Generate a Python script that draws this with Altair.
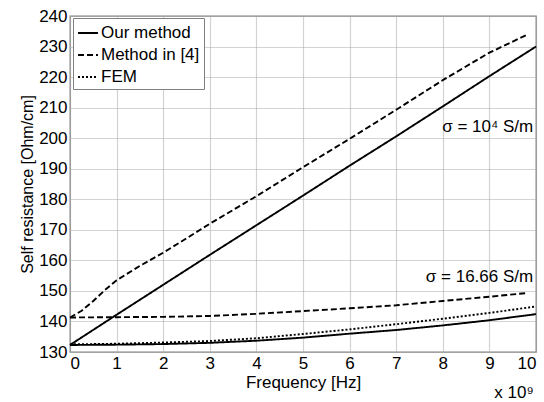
import altair as alt
import pandas as pd

# ---- data (frequency in units of 1e9 Hz, resistance in Ohm/cm) ----
freq_our_1e4 = [0, 1, 2, 3, 4, 5, 6, 7, 8, 9, 10]
our_1e4 = [132.3, 142.2, 152.0, 161.8, 171.5, 181.2, 191.0, 200.6, 210.4, 220.3, 230.0]

freq_m4_1e4 = [0, 0.25, 0.5, 0.75, 1, 1.5, 2, 2.5, 3, 4, 5, 6, 7, 8, 9, 9.8]
m4_1e4 = [141.3, 143.5, 146.7, 150.3, 153.5, 158.2, 162.5, 167.2, 172.0, 181.0,
          190.5, 199.8, 209.3, 219.0, 228.0, 233.8]

freq_16 = [0, 1, 2, 3, 4, 5, 6, 7, 8, 9, 10]
our_16 = [132.3, 132.4, 132.6, 133.0, 133.7, 134.7, 136.0, 137.2, 138.7, 140.4, 142.4]
fem_16 = [132.5, 132.7, 133.1, 133.6, 134.5, 135.9, 137.4, 139.1, 140.9, 142.8, 144.9]

freq_m4_16 = [0, 1, 2, 3, 4, 5, 6, 7, 8, 9, 9.8]
m4_16 = [141.3, 141.4, 141.5, 141.8, 142.5, 143.4, 144.3, 145.3, 146.7, 148.1, 149.3]

methods = ["Our method", "Method in [4]", "FEM"]
x_ticks = list(range(0, 11))
y_ticks = list(range(130, 241, 10))

ann_text = ["σ = 10⁴ S/m", "σ = 16.66 S/m"]
ann_x = [9.94, 9.94]
ann_y = [203.6, 154.5]

# ---- build table ----
rows = []
def add(freqs, vals, method, sigma):
    for f, v in zip(freqs, vals):
        rows.append({"freq": f, "R": v, "method": method, "sigma": sigma})

add(freq_our_1e4, our_1e4, "Our method", "1e4")
add(freq_m4_1e4, m4_1e4, "Method in [4]", "1e4")
add(freq_16, our_16, "Our method", "16.66")
add(freq_16, fem_16, "FEM", "16.66")
add(freq_m4_16, m4_16, "Method in [4]", "16.66")
df = pd.DataFrame(rows)
ann = pd.DataFrame({"freq": ann_x, "R": ann_y, "text": ann_text})

FONT = "Liberation Sans"
W, H = 466, 336

xscale = alt.Scale(domain=[0, 10], nice=False)
yscale = alt.Scale(domain=[130, 240], nice=False)

GRID = dict(grid=True, gridColor="#a6a6a6", gridDash=[1, 1], gridWidth=1.2,
            gridOpacity=1)

xaxis = alt.Axis(values=x_ticks, title="Frequency [Hz]", format="d",
                 labelPadding=3, titlePadding=3, labelOverlap=False,
                 labelFontSize=17, titleFontSize=17, **GRID)
yaxis = alt.Axis(values=y_ticks, title="Self resistance [Ohm/cm]",
                 labelPadding=3, titlePadding=3, labelOverlap=False,
                 labelFontSize=17, titleFontSize=16, **GRID)

X = alt.X("freq:Q", scale=xscale, axis=xaxis)
Y = alt.Y("R:Q", scale=yscale, axis=yaxis)

lines = alt.Chart(df).mark_line(color="black", strokeWidth=1.9).encode(
    x=X, y=Y,
    strokeDash=alt.StrokeDash(
        "method:N",
        scale=alt.Scale(domain=methods, range=[[1, 0], [6, 3], [2, 2]]),
        legend=alt.Legend(title=None, orient="none", legendX=3, legendY=2,
                          symbolType="stroke", symbolSize=400, symbolStrokeWidth=1.9,
                          symbolStrokeColor="black",
                          labelFont=FONT, labelFontSize=17, labelColor="black",
                          labelOffset=2, rowPadding=3, padding=4,
                          strokeColor="#808080", fillColor="white"),
    ),
    detail="sigma:N",
    order="freq:Q",
)

labels = alt.Chart(ann).mark_text(align="right", baseline="middle", font=FONT,
                                  fontSize=17, color="black").encode(
    x=X, y=Y, text="text:N")

exp_label = alt.Chart(pd.DataFrame({"t": ["x 10⁹"]})).mark_text(
    align="center", baseline="alphabetic", font=FONT, fontSize=17, color="black"
).encode(x=alt.value(W - 22), y=alt.value(H + 46), text="t:N")

chart = alt.layer(lines, labels, exp_label).properties(
    width=W, height=H,
    autosize=alt.AutoSizeParams(type="none"),
    padding={"left": 70, "top": 16, "right": 8, "bottom": 50},
).configure(background="white").configure_view(
    stroke="#808080", strokeWidth=1.3
).configure_axis(
    domain=False, ticks=False,
    labelFont=FONT, labelColor="black",
    titleFont=FONT, titleFontWeight="normal", titleColor="black",
)

chart.save("out.html", embed_options={"renderer": "svg", "actions": False})
